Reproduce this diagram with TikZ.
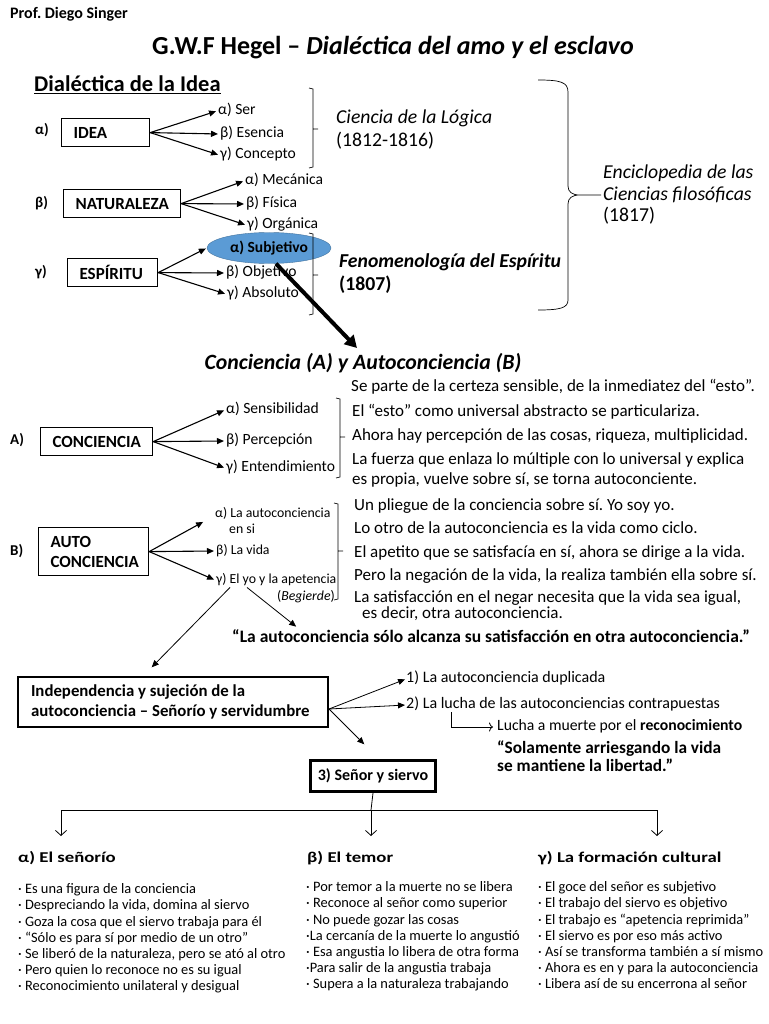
\documentclass[tikz,border=0pt]{standalone}
\usepackage{fontspec}
\setmainfont{Carlito}
\newfontfamily\headfont[FakeStretch=1.25]{Carlito}
\usetikzlibrary{arrows.meta,shapes.geometric}
\definecolor{subjfill}{RGB}{91,155,213}
\definecolor{subjline}{RGB}{65,113,156}
\newcommand\fsz[2]{\fontsize{#1}{#2}\selectfont}
\frenchspacing

\begin{document}
\begin{tikzpicture}[x=1pt,y=-1pt,
  box/.style={draw,line width=1.2pt,inner xsep=12pt,inner ysep=0pt,align=flush left,anchor=north west,font=\bfseries\fsz{17}{20}},
  side/.style={anchor=west,inner sep=0pt,font=\bfseries\fsz{15}{17}},
  lbl/.style={anchor=west,inner sep=1pt,text height=10.5pt,text depth=3.5pt,font=\fsz{15.6}{18}},
  lblsm/.style={lbl,text height=9.5pt,text depth=3pt,font=\fsz{13.8}{16}},
  txt/.style={anchor=west,inner sep=0pt,text height=12pt,text depth=4pt,font=\fsz{17}{20}},
  cond/.style={anchor=west,inner sep=0pt,text height=11pt,text depth=3.5pt,font=\fsz{16}{18}},
  arr/.style={-{Triangle[length=7pt,width=6pt]},line width=1.1pt,shorten >=1pt},
  brk/.style={line width=0.7pt},
  colhead/.style={anchor=west,inner sep=0pt,font=\headfont\bfseries\fsz{15}{17}},
  col/.style={anchor=north west,inner sep=0pt,align=flush left,font=\fsz{14.4}{16.2}}]
\useasboundingbox (0,0) rectangle (768,1024);

% header
\node[anchor=west,inner sep=0pt,font=\bfseries\fsz{16}{18}] (prof) at (10,14) {Prof. Diego Singer};
\node[inner sep=0pt,font=\bfseries\fsz{26}{30}] (title) at (393,48) {G.W.F Hegel – \textit{Dialéctica del amo y el esclavo}};
\node[anchor=west,inner sep=0pt,font=\bfseries\fsz{22.5}{26}] (dial) at (34,85) {\underline{Dialéctica de la Idea}};

% idea
\node[side] (ia) at (35,130) {α)};
\node[box,minimum width=88pt,minimum height=28pt,text width=64pt] (idea) at (61,118) {IDEA};
\node[lbl] (ser) at (217,111) {α) Ser};
\node[lbl] (esen) at (219,134) {β) Esencia};
\node[lbl] (conc) at (219,155) {γ) Concepto};
\draw[arr] (idea.east) -- (ser.west); \draw[arr] (idea.east) -- (esen.west); \draw[arr] (idea.east) -- (conc.west);

% naturaleza
\node[side] (nb) at (35,203) {β)};
\node[box,minimum width=117pt,minimum height=28pt,text width=93pt] (nat) at (63,189) {NATURALEZA};
\node[lbl] (meca) at (244,181) {α) Mecánica};
\node[lbl] (fis) at (245,204) {β) Física};
\node[lbl] (org) at (246,225) {γ) Orgánica};
\draw[arr] (nat.east) -- (meca.west); \draw[arr] (nat.east) -- (fis.west); \draw[arr] (nat.east) -- (org.west);

% espiritu
\node[side] (eg) at (35,272) {γ)};
\node[box,minimum width=90pt,minimum height=28pt,text width=66pt] (esp) at (67,258) {ESPÍRITU};
\node[ellipse,fill=subjfill,draw=subjline,minimum width=124pt,minimum height=31pt,inner sep=0pt,font=\bfseries\fsz{15.5}{18}] (subj) at (269,248) {α) Subjetivo\hspace{16pt}};
\node[lbl] (obj) at (225,273) {β) Objetivo};
\node[lbl] (abso) at (226,294) {γ) Absoluto};
\draw[arr] (esp.east) -- (subj.west); \draw[arr] (esp.east) -- (obj.west); \draw[arr] (esp.east) -- (abso.west);

% brackets and works
\draw[brk] (309,88) -- (313,89) -- (313,167) -- (309,168) (313,129) -- (318,129);
\draw[brk] (309,233) -- (313,234) -- (313,314) -- (309,315) (313,275) -- (318,275);
\node[anchor=west,inner sep=0pt,font=\itshape\fsz{19.7}{22}] (logica) at (336,118) {Ciencia de la Lógica};
\node[anchor=west,inner sep=0pt,font=\fsz{19.7}{22}] (logyr) at (336,141) {(1812-1816)};
\node[anchor=west,inner sep=0pt,font=\bfseries\itshape\fsz{19.7}{22}] (fenom) at (339,262) {Fenomenología del Espíritu};
\node[anchor=west,inner sep=0pt,font=\bfseries\fsz{19.7}{22}] (fenyr) at (339,285) {(1807)};
\draw[brk] (538,80) .. controls (560,80) and (568,82) .. (568,92) -- (568,186) .. controls (568,192) and (572,195) .. (580,195) -- (601,195)
  (580,195) .. controls (572,195) and (568,198) .. (568,204) -- (568,300) .. controls (568,308) and (560,310) .. (538,310);
\node[anchor=west,inner sep=0pt,align=flush left,font=\itshape\fsz{19.7}{22}] (encic) at (603,184) {Enciclopedia de las\\Ciencias filosóficas};
\node[anchor=west,inner sep=0pt,font=\fsz{19.7}{22}] (encyr) at (603,216) {(1817)};

% conciencia
\node[inner sep=0pt,font=\bfseries\itshape\fsz{21.8}{24}] (heading) at (363,363) {Conciencia (A) y Autoconciencia (B)};
\draw[line width=4pt,-{Triangle[length=12pt,width=13pt]}] (subj.-66) -- ([xshift=-6pt,yshift=5pt]heading.north);

\node[side] (ca) at (10,440) {A)};
\node[box,minimum width=112pt,minimum height=28pt,text width=88pt] (concie) at (40,427) {CONCIENCIA};
\node[lbl] (sens) at (225,410) {α) Sensibilidad};
\node[lbl] (perc) at (225,441) {β) Percepción};
\node[lbl] (ente) at (225,468) {γ) Entendimiento};
\draw[arr] (concie.east) -- (sens.west); \draw[arr] (concie.east) -- (perc.west); \draw[arr] (concie.east) -- (ente.west);
\draw[brk] (336,398) -- (340,399) -- (340,477) -- (336,478) (340,437) -- (345,437);
\node[txt] (sa1) at (351,387) {Se parte de la certeza sensible, de la inmediatez del “esto”.};
\node[txt] (sa2) at (352,412) {El “esto” como universal abstracto se particulariza.};
\node[txt] (sa3) at (352,436) {Ahora hay percepción de las cosas, riqueza, multiplicidad.};
\node[txt] (sa4) at (352,460) {La fuerza que enlaza lo múltiple con lo universal y explica};
\node[txt] (sa5) at (352,480) {es propia, vuelve sobre sí, se torna autoconciente.};

% autoconciencia
\node[side] (cb) at (10,551) {B)};
\node[box,minimum width=110pt,minimum height=48pt,text width=86pt] (autoc) at (38,527) {AUTO\\CONCIENCIA};
\node[lblsm] (ala) at (214,514) {α) La autoconciencia};
\node[lblsm] (ensi) at (228,530) {en si};
\node[lblsm] (vida) at (215,551) {β) La vida};
\node[lblsm] (elyo) at (215,580) {γ) El yo y la apetencia};
\node[lblsm,anchor=east] (beg) at (336,597) {(\textit{Begierde})};
\draw[arr] (autoc.east) -- ([xshift=-10pt]ala.south west); \draw[arr] (autoc.east) -- (vida.west); \draw[arr] (autoc.east) -- (elyo.west);
\draw[brk] (334,503) -- (338,504) -- (338,599) -- (334,600) (338,551) -- (343,551);
\node[txt] (sb1) at (354,506) {Un pliegue de la conciencia sobre sí. Yo soy yo.};
\node[txt] (sb2) at (354,529) {Lo otro de la autoconciencia es la vida como ciclo.};
\node[txt] (sb3) at (354,553) {El apetito que se satisfacía en sí, ahora se dirige a la vida.};
\node[txt] (sb4) at (354,576) {Pero la negación de la vida, la realiza también ella sobre sí.};
\node[txt] (sb5) at (354,598) {La satisfacción en el negar necesita que la vida sea igual,};
\node[txt] (sb6) at (362,614) {es decir, otra autoconciencia.};
\node[anchor=west,inner sep=0pt,font=\bfseries\fsz{17.5}{20}] (quote) at (232,636) {“La autoconciencia sólo alcanza su satisfacción en otra autoconciencia.”};

% señorio y servidumbre
\node[box,line width=2pt,minimum width=310pt,minimum height=50pt,text width=284pt,inner xsep=13pt,font=\bfseries\fsz{16.8}{20}] (indep) at (17,676) {Independencia y sujeción de la\\autoconciencia – Señorío y servidumbre};
\draw[arr,line width=0.8pt] ([xshift=32pt]elyo.south west) -- ([xshift=65pt,yshift=2pt]quote.north west);
\draw[arr,line width=0.8pt] ([xshift=15pt]elyo.south west) -- ([xshift=-22pt,yshift=8pt]indep.north);
\node[cond] (dup) at (406,679) {1) La autoconciencia duplicada};
\node[cond] (lucha) at (406,705) {2) La lucha de las autoconciencias contrapuestas};
\node[cond,font=\fsz{15.7}{18}] (muerte) at (497,727) {Lucha a muerte por el \textbf{reconocimiento}};
\node[anchor=west,inner sep=0pt,align=flush left,font=\bfseries\fsz{17.3}{18}] (solam) at (497,756) {“Solamente arriesgando la vida\\se mantiene la libertad.”};
\node[draw,line width=3pt,minimum width=125pt,minimum height=31pt,anchor=north west,font=\bfseries\fsz{16}{18}] (senor) at (309,759) {3) Señor y siervo};
\coordinate (sv) at (365,745);
\draw[arr,line width=0.8pt] ([yshift=-7pt]indep.east) -- (dup.west);
\draw[arr,line width=0.8pt] ([yshift=-7pt]indep.east) -- (lucha.west);
\draw[arr,line width=0.8pt] ([yshift=-7pt]indep.east) -- (sv);
\draw[-{To[length=4pt,width=9pt]},line width=0.8pt,shorten >=4pt] ([xshift=45pt]lucha.south west) |- (muerte.west);

% tree
\coordinate (jn) at (371,810); \coordinate (ja) at (61,810); \coordinate (jg) at (657,810);
\coordinate (ta) at (61,836); \coordinate (tb) at (371,836); \coordinate (tg) at (657,836);
\draw[line width=0.8pt] (senor.south) -- (jn); \draw[line width=0.8pt] (ja) -- (jg);
\draw[-{Straight Barb[length=5pt,width=11pt]},line width=0.8pt] (ja) -- (ta);
\draw[-{Straight Barb[length=5pt,width=11pt]},line width=0.8pt] (jn) -- (tb);
\draw[-{Straight Barb[length=5pt,width=11pt]},line width=0.8pt] (jg) -- (tg);

% columnas
\node[colhead] (hsen) at (18,858) {α) El señorío};
\node[colhead] (htem) at (307,858) {β) El temor};
\node[colhead] (hfor) at (538,858) {γ) La formación cultural};
\node[col] (csen) at (18,883.5) {· Es una figura de la conciencia\\· Despreciando la vida, domina al siervo\\· Goza la cosa que el siervo trabaja para él\\· “Sólo es para sí por medio de un otro”\\· Se liberó de la naturaleza, pero se ató al otro\\· Pero quien lo reconoce no es su igual\\· Reconocimiento unilateral y desigual};
\node[col] (ctem) at (306,881.5) {· Por temor a la muerte no se libera\\· Reconoce al señor como superior\\· No puede gozar las cosas\\·La cercanía de la muerte lo angustió\\· Esa angustia lo libera de otra forma\\·Para salir de la angustia trabaja\\· Supera a la naturaleza trabajando};
\node[col] (cfor) at (538,881.5) {· El goce del señor es subjetivo\\· El trabajo del siervo es objetivo\\· El trabajo es “apetencia reprimida”\\· El siervo es por eso más activo\\· Así se transforma también a sí mismo\\· Ahora es en y para la autoconciencia\\· Libera así de su encerrona al señor};
\end{tikzpicture}
\end{document}
